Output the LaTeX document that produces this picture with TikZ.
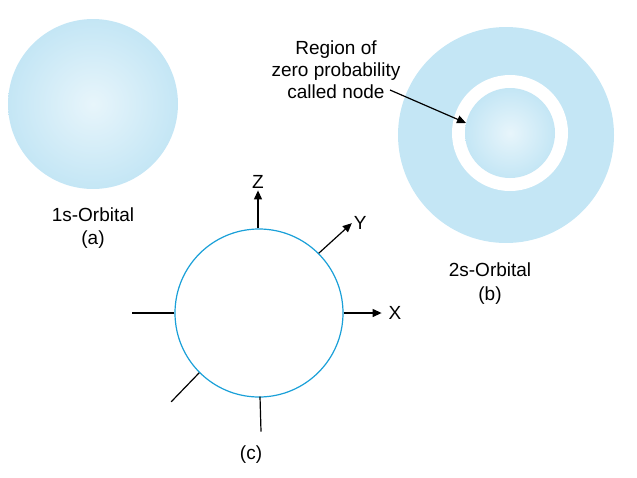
\documentclass[tikz,border=0pt]{standalone}
\usepackage{fontspec}
\setmainfont{Liberation Sans}
\usetikzlibrary{arrows.meta}
\definecolor{lb}{HTML}{C4E6F5}
\definecolor{cy}{HTML}{1AA0D8}
\tikzset{lbl/.style={font=\fontsize{19}{22}\selectfont,align=center},
ax/.style={line width=1.2pt,-{Triangle[length=9pt,width=8pt]}},
ln/.style={line width=1.2pt}}
\begin{document}
\begin{tikzpicture}[x=1pt,y=-1pt]
\useasboundingbox (0,0) rectangle (637,477);
% 1s
\shade[inner color=white!60!lb,outer color=lb] (93,104) circle (85);
\node[lbl] (a1) at (93,215) {1s-Orbital};
\node[lbl] (a2) at (93,240) {(a)};
% 2s
\fill[lb] (506,135) circle (108);
\fill[white] (510,133) circle (58);
\shade[inner color=white!60!lb,outer color=lb] (510,133) circle (45);
\node[lbl] (t) at (336,70) {Region of\\zero probability\\called node};
\coordinate (tip) at (466,123);
\draw[ax] (390,90) -- (tip);
\node[lbl] (b1) at (490,270) {2s-Orbital};
\node[lbl] (b2) at (490,296) {(b)};
% c
\node[circle,draw=cy,line width=1.2pt,minimum size=168pt,inner sep=0] (c) at (259,313) {};
\draw[ax] (c.north) ++(-1,0) -- ++(0,-38) node[lbl,above=-2pt] (Z) {Z};
\draw[ax] (c.45) -- ++(33,-30) node[lbl,right=-2pt] (Y) {Y};
\draw[ax] (c.east) -- ++(38,0) node[lbl,right=3pt] (X) {X};
\draw[ln] (c.west) -- ++(-42,0);
\draw[ln] (c.225) -- ++(-28,29);
\draw[ln] (c.south) ++(1,-1) -- ++(1,35);
\node[lbl] (c1) at (251,455) {(c)};
\end{tikzpicture}
\end{document}
